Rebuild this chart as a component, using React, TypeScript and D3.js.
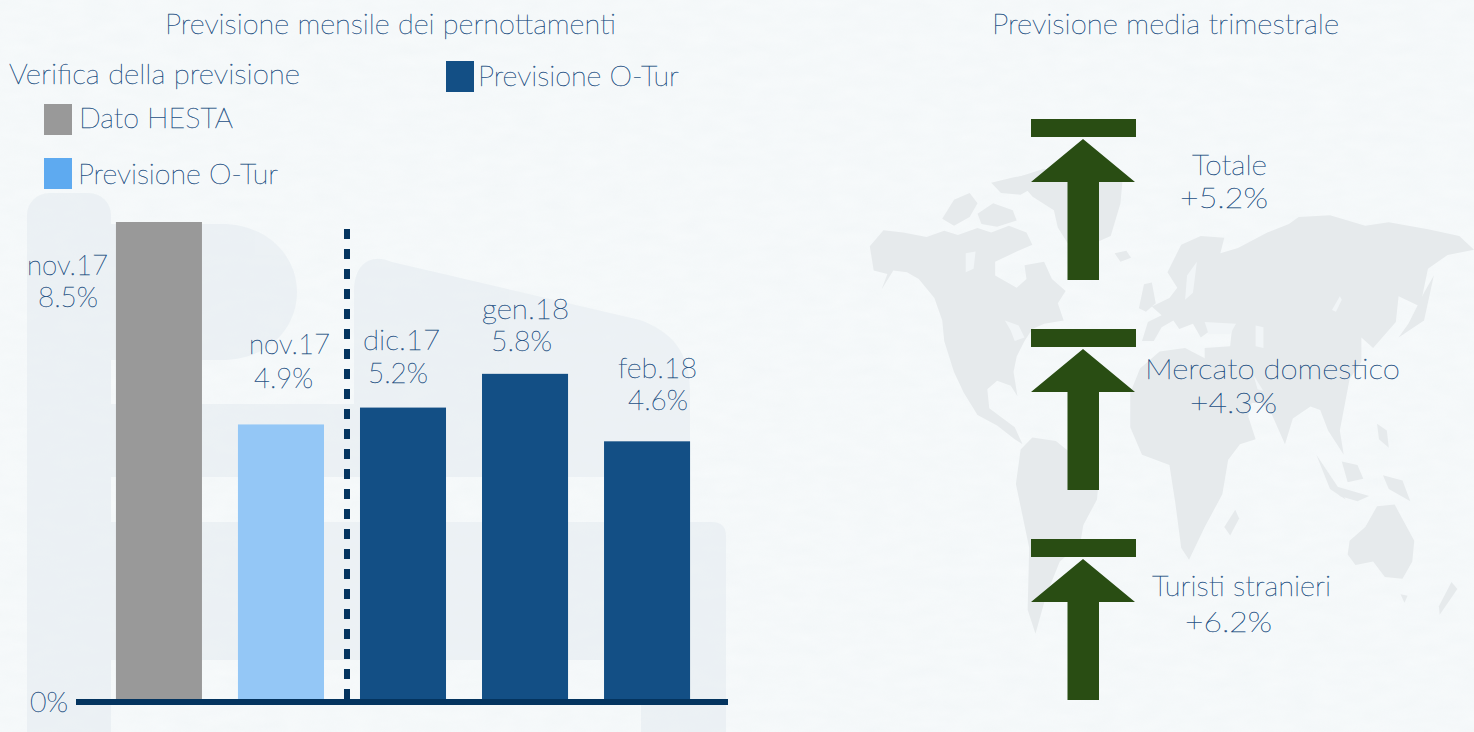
import React from "react";
import * as d3 from "d3";

const categories = ["nov.17", "nov.17", "dic.17", "gen.18", "feb.18"];
const barKeys = ["a", "b", "c", "d", "e"];
const values = [8.5, 4.9, 5.2, 5.8, 4.6];
const valueLabels = ["8.5%", "4.9%", "5.2%", "5.8%", "4.6%"];
const barColors = ["#999999", "#94c7f6", "#134f85", "#134f85", "#134f85"];
const arrowLabels = ["Totale", "Mercato domestico", "Turisti stranieri"];
const arrowValues = ["+5.2%", "+4.3%", "+6.2%"];

const W = 1474, H = 732;
const FONT = "Lato, 'Open Sans', sans-serif";
const TEXT = "#1d4f82";

const x = d3.scaleBand<string>().domain(barKeys).range([98, 708]).paddingInner(0.295).paddingOuter(0.147);
const y = d3.scaleLinear().domain([0, 8.5]).range([700, 222]);

// [left x, baseline, rendered width]
const catPos = [[27, 275, 81], [249, 354, 81], [363, 350, 77], [482, 319, 87], [618, 378, 79]];
const valPos = [[38, 307, 60], [254, 388, 59], [368, 383, 60], [491, 351, 61], [628, 410, 60]];

function T({ s, at, size = 28 }: { s: string; at: number[]; size?: number }) {
  return <text x={at[0]} y={at[1]} textLength={at[2]} lengthAdjust="spacingAndGlyphs" fontSize={size}>{s}</text>;
}

// map outlines traced in reference-crop coordinates
const mapX = (v: number) => 860 + v / 2.553;
const mapY = (v: number) => 100 + v / 2.904;

const land: [number, number][][] = [
  // North America
  [[25,425],[60,378],[110,385],[170,398],[215,380],[250,392],[300,372],[335,385],[380,365],[425,385],[440,420],[400,440],[345,470],[345,510],[400,545],[425,520],[420,480],[470,470],[490,520],[525,555],[505,590],[520,640],[470,650],[440,665],[420,700],[400,745],[392,790],[402,860],[385,830],[350,815],[325,840],[330,895],[365,925],[395,950],[415,1000],[395,985],[350,945],[300,915],[265,850],[240,790],[215,700],[210,640],[190,575],[150,520],[120,500],[85,495],[55,550],[70,505],[35,495]],
  // Arctic islands
  [[210,345],[240,290],[280,270],[300,300],[280,340],[240,365]],
  [[300,330],[340,300],[390,320],[400,350],[350,368],[310,360]],
  [[335,240],[390,225],[440,215],[450,250],[410,275],[360,270]],
  // Greenland
  [[400,225],[470,200],[560,215],[670,235],[665,300],[640,395],[590,420],[530,415],[505,370],[495,320],[440,280]],
  // Iceland
  [[650,445],[680,438],[692,458],[665,470]],
  // British Isles
  [[725,535],[745,530],[755,590],[730,615],[712,605]],
  // South America
  [[410,1015],[440,980],[500,990],[555,1040],[610,1100],[605,1160],[570,1235],[562,1290],[510,1340],[475,1440],[448,1550],[428,1480],[432,1300],[398,1115]],
  // Eurasia
  [[720,700],[735,645],[770,625],[745,600],[790,575],[810,545],[785,500],[820,420],[870,395],[930,400],[920,445],[965,430],[1040,385],[1095,360],[1120,340],[1200,335],[1290,365],[1350,355],[1450,375],[1530,395],[1568,435],[1500,450],[1450,490],[1430,600],[1375,570],[1368,645],[1310,720],[1280,690],[1280,760],[1250,810],[1225,960],[1235,1030],[1195,960],[1175,900],[1150,890],[1105,925],[1085,1000],[1050,910],[1025,880],[1000,880],[975,985],[945,960],[910,840],[880,780],[880,720],[945,715],[950,660],[900,665],[870,690],[850,650],[815,665],[800,640],[770,660],[750,700]],
  // Africa
  [[690,850],[715,780],[765,730],[830,720],[880,750],[950,790],[980,880],[1010,985],[970,1000],[940,1045],[925,1145],[880,1240],[840,1335],[820,1300],[805,1170],[790,1060],[720,1030],[690,950]],
  // Madagascar
  [[958,1190],[968,1215],[945,1265],[930,1240]],
  // Japan
  [[1440,560],[1465,510],[1440,640],[1375,690],[1400,650]],
  // Philippines, Borneo, Sumatra, New Guinea
  [[1320,940],[1345,960],[1350,1010],[1325,985]],
  [[1230,1050],[1270,1060],[1285,1100],[1245,1110]],
  [[1165,1030],[1215,1115],[1240,1160],[1200,1130]],
  [[1335,1090],[1385,1105],[1405,1165],[1350,1130]],
  [[1210,1120],[1300,1150],[1270,1165],[1225,1150]],
  // Australia
  [[1250,1280],[1290,1240],[1320,1180],[1365,1175],[1415,1280],[1410,1340],[1385,1390],[1340,1385],[1310,1340],[1265,1350],[1245,1320]],
  // New Zealand
  [[1510,1400],[1525,1420],[1480,1495],[1478,1470]],
  [[1380,1435],[1398,1440],[1390,1460]],
];
const water: [number, number][][] = [
  [[370,640],[405,655],[420,690],[395,700],[385,670]],
  [[270,445],[295,440],[290,490],[270,500]],
  [[860,470],[850,560],[830,580],[835,510]],
  [[880,645],[960,650],[945,680],[890,680]],
  [[1010,655],[1030,660],[1030,720],[1010,715]],
  [[1225,570],[1205,610],[1215,615],[1230,580]],
  [[1005,800],[1030,845],[1015,840]],
];
const landPath = d3.line().x(d => mapX(d[0])).y(d => mapY(d[1])).curve(d3.curveLinearClosed);

const ARROW = "#294d13";

function Arrow({ top }: { top: number }) {
  const cx = 1083;
  return (
    <g fill={ARROW}>
      <rect x={1031} y={top} width={105} height={18} />
      <path d={`M${cx} ${top + 20}L${cx + 52} ${top + 63}H${cx + 16}V${top + 161}H${cx - 15.5}V${top + 63}H${cx - 52}Z`} />
    </g>
  );
}

export default function App() {
  const zero = y(0);
  return (
    <svg width={W} height={H} style={{ position: "fixed", left: 0, top: 0, display: "block" }} fontFamily={FONT} fontWeight={100}>
      <defs>
        <filter id="paper" x="0" y="0" width="100%" height="100%">
          <feTurbulence type="fractalNoise" baseFrequency="0.035 0.09" numOctaves={2} seed={4} />
          <feColorMatrix values="0 0 0 0 0.82  0 0 0 0 0.87  0 0 0 0 0.89  0.8 0 0 0 0" />
        </filter>
      </defs>
      <rect width={W} height={H} fill="#f7fafb" />
      <rect width={W} height={H} filter="url(#paper)" opacity={0.4} />

      {/* watermark */}
      <g fill="#e8eef2" opacity={0.7}>
        <rect x={27} y={193} width={84} height={560} rx={22} />
        <path d="M111 224H222C266 224 297 255 297 292C297 330 266 360 222 360H111Z" />
        <path d="M354 292C354 262 372 253 392 262L640 320C672 332 690 352 690 392V477H111V404H354Z" />
        <path d="M111 522H712Q726 522 726 536V660H111Z" />
        <path d="M641 660H726V735Q726 753 705 753H662Q641 753 641 735Z" />
      </g>

      <g fill="#e6eaec">
        {land.map((d, i) => <path key={i} d={landPath(d) || ""} />)}
      </g>
      <g fill="#f1f5f7">
        {water.map((d, i) => <path key={i} d={landPath(d) || ""} />)}
      </g>

      {/* titles */}
      <g fill={TEXT} stroke={TEXT} strokeWidth={0.35}>
        <T s="Previsione mensile dei pernottamenti" at={[165, 34, 451]} />
        <T s="Previsione media trimestrale" at={[992, 34, 347]} />
        <T s="Verifica della previsione" at={[9, 84, 291]} />
        <T s="Previsione O-Tur" at={[478, 86, 201]} />
        <T s="Dato HESTA" at={[79, 128, 154]} />
        <T s="Previsione O-Tur" at={[78, 184, 200]} />
      </g>
      <rect x={446} y={61} width={28} height={31} fill="#134f85" />
      <rect x={44} y={104} width={28} height={31} fill="#999999" />
      <rect x={44} y={158} width={28} height={31} fill="#5eaaf0" />

      {/* bars */}
      {barKeys.map((k, i) => (
        <rect key={k} x={x(k)} y={y(values[i])} width={x.bandwidth()} height={zero - y(values[i])} fill={barColors[i]} />
      ))}
      <line x1={347} x2={347} y1={229} y2={700} stroke="#04345f" strokeWidth={6} strokeDasharray="10 10" />
      <rect x={76} y={699} width={652} height={6} fill="#04345f" />

      <g fill={TEXT} stroke={TEXT} strokeWidth={0.35}>
        <T s="0%" at={[30, 712, 38]} size={27} />
        {barKeys.map((k, i) => (
          <g key={k}>
            <T s={categories[i]} at={catPos[i]} />
            <T s={valueLabels[i]} at={valPos[i]} />
          </g>
        ))}
      </g>

      {/* arrows */}
      {[119, 329, 539].map(t => <Arrow key={t} top={t} />)}
      <g fill={TEXT} stroke={TEXT} strokeWidth={0.35}>
        <T s={arrowLabels[0]} at={[1192, 175, 75]} />
        <T s={arrowValues[0]} at={[1180, 208, 88]} />
        <T s={arrowLabels[1]} at={[1145, 379, 255]} />
        <T s={arrowValues[1]} at={[1190, 413, 87]} />
        <T s={arrowLabels[2]} at={[1152, 596, 179]} />
        <T s={arrowValues[2]} at={[1185, 632, 87]} />
      </g>
    </svg>
  );
}
